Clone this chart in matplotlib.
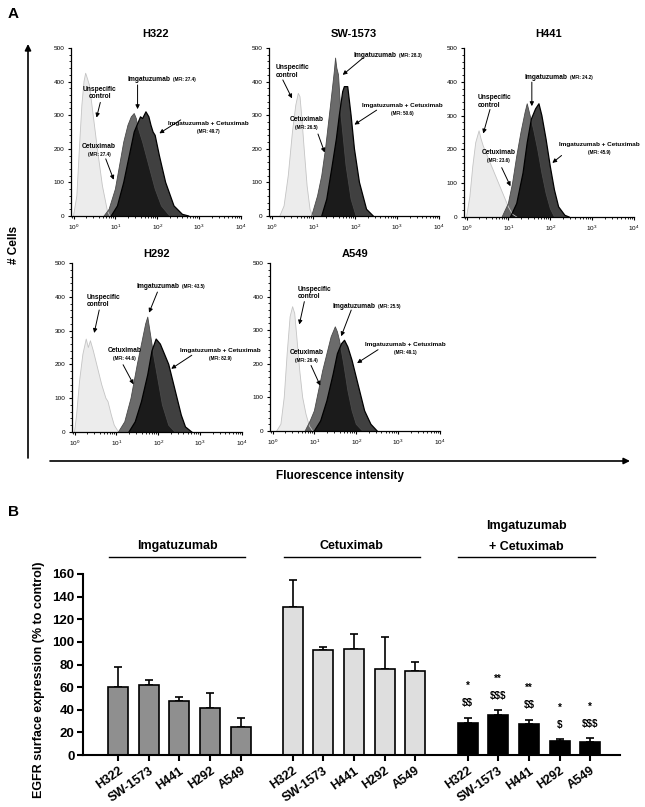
import numpy as np
import matplotlib
matplotlib.use("Agg")
import matplotlib.pyplot as plt
from matplotlib.ticker import AutoMinorLocator, LogLocator, NullFormatter

plt.rcParams["font.family"] = ["Liberation Sans", "DejaVu Sans"]
plt.rcParams["mathtext.fontset"] = "custom"
plt.rcParams["mathtext.rm"] = "Liberation Sans"
plt.rcParams["mathtext.default"] = "regular"

W, H = 645, 807

# ---- panel A: histogram outlines, (log10 intensity, # cells) ----
h322_ctrl = [(0.0, 0), (0.08, 60), (0.14, 200), (0.2, 330), (0.25, 400), (0.29, 425), (0.33, 410),
             (0.38, 390), (0.45, 320), (0.57, 200), (0.69, 90), (0.81, 15), (0.87, 0)]
h322_single = [(0.73, 0), (0.85, 20), (1.0, 80), (1.1, 150), (1.2, 220), (1.3, 270), (1.38, 295),
               (1.45, 305), (1.5, 290), (1.55, 260), (1.65, 220), (1.8, 150), (1.95, 80),
               (2.1, 30), (2.3, 0)]
h322_combo = [(0.9, 0), (1.05, 30), (1.2, 100), (1.35, 190), (1.45, 250), (1.55, 280), (1.6, 295),
              (1.65, 290), (1.73, 310), (1.8, 295), (1.85, 270), (1.9, 250), (1.95, 240),
              (2.05, 180), (2.2, 100), (2.4, 30), (2.6, 5), (2.75, 0)]

sw1573_ctrl = [(0.2, 0), (0.3, 30), (0.4, 120), (0.5, 250), (0.58, 330), (0.64, 365), (0.68, 355),
               (0.72, 300), (0.78, 200), (0.85, 90), (0.92, 20), (0.98, 0)]
sw1573_single = [(0.96, 0), (1.1, 60), (1.2, 120), (1.29, 200), (1.41, 330), (1.5, 430), (1.53, 470),
                 (1.56, 440), (1.6, 420), (1.66, 300), (1.78, 150), (1.9, 50), (2.02, 0)]
sw1573_combo = [(1.2, 0), (1.32, 50), (1.45, 150), (1.55, 230), (1.62, 300), (1.7, 370), (1.74, 385),
                (1.82, 385), (1.9, 300), (1.98, 200), (2.1, 100), (2.27, 20), (2.43, 0)]

h441_ctrl = [(0.0, 0), (0.08, 60), (0.15, 150), (0.22, 220), (0.3, 255), (0.35, 230), (0.4, 210),
             (0.5, 180), (0.6, 150), (0.7, 120), (0.8, 90), (0.9, 60), (1.0, 30), (1.1, 8), (1.2, 0)]
h441_single = [(0.85, 0), (1.0, 40), (1.1, 100), (1.2, 180), (1.3, 250), (1.4, 310), (1.45, 335),
               (1.5, 310), (1.6, 260), (1.7, 200), (1.8, 130), (1.9, 70), (2.0, 25), (2.1, 0)]
h441_combo = [(1.05, 0), (1.2, 40), (1.35, 130), (1.45, 220), (1.55, 290), (1.65, 320), (1.73, 335),
              (1.8, 300), (1.9, 230), (2.0, 150), (2.1, 80), (2.2, 30), (2.35, 5), (2.45, 0)]

h292_ctrl = [(0.0, 0), (0.05, 50), (0.12, 150), (0.2, 230), (0.28, 275), (0.33, 250), (0.38, 270),
             (0.45, 240), (0.55, 190), (0.65, 140), (0.75, 100), (0.8, 90), (0.88, 50),
             (0.95, 20), (1.05, 0)]
h292_single = [(1.05, 0), (1.2, 30), (1.35, 100), (1.5, 200), (1.6, 260), (1.7, 320), (1.75, 340),
               (1.8, 300), (1.9, 220), (2.0, 150), (2.1, 80), (2.25, 20), (2.4, 0)]
h292_combo = [(1.3, 0), (1.45, 30), (1.6, 90), (1.75, 170), (1.85, 240), (1.95, 275), (2.05, 260),
              (2.15, 230), (2.25, 200), (2.35, 150), (2.45, 100), (2.55, 50), (2.65, 15), (2.8, 0)]

a549_ctrl = [(0.1, 0), (0.2, 20), (0.28, 100), (0.35, 230), (0.42, 340), (0.48, 370), (0.53, 350),
             (0.58, 280), (0.65, 180), (0.72, 100), (0.8, 50), (0.88, 15), (0.96, 0)]
a549_single = [(0.78, 0), (0.9, 30), (1.0, 60), (1.1, 120), (1.2, 180), (1.3, 230), (1.4, 280),
               (1.5, 310), (1.55, 295), (1.6, 270), (1.7, 200), (1.8, 120), (1.9, 60), (2.0, 20),
               (2.15, 0)]
a549_combo = [(1.0, 0), (1.15, 30), (1.3, 90), (1.45, 170), (1.55, 230), (1.65, 260), (1.72, 270),
              (1.8, 250), (1.9, 210), (2.0, 160), (2.1, 110), (2.2, 60), (2.35, 20), (2.5, 0)]

hist_names = ["H322", "SW-1573", "H441", "H292", "A549"]
mfi_imga = [27.4, 28.3, 24.2, 43.5, 25.5]
mfi_cetux = [27.4, 26.5, 23.6, 44.6, 26.4]
mfi_combo = [49.7, 50.6, 45.9, 82.9, 49.1]

# ---- panel B: EGFR surface expression (% to control) ----
cell_lines = ["H322", "SW-1573", "H441", "H292", "A549"]
imga_mean = [60.5, 62.2, 47.5, 41.3, 24.8]
imga_err = [17.1, 4.2, 4.1, 13.3, 7.9]
cetux_mean = [130.4, 93.2, 94.0, 76.4, 74.0]
cetux_err = [24.6, 2.4, 12.8, 28.3, 8.0]
combo_mean = [28.6, 35.0, 27.4, 12.1, 11.2]
combo_err = [4.4, 4.5, 3.9, 1.8, 3.5]
stars = ["*", "**", "**", "*", "*"]
dollars = ["$$", "$$$", "$$", "$", "$$$"]


fig = plt.figure(figsize=(W / 100, H / 100), dpi=100)


def px_axes(left, top, width, height):
    return fig.add_axes([left / W, 1 - (top + height) / H, width / W, height / H])


def fill_curve(ax, pts, face, alpha, edge, lw):
    lx, cnt = zip(*pts)
    xs = 10 ** np.array(lx)
    ax.fill(xs, cnt, color=face, alpha=alpha, lw=0)
    ax.plot(xs, cnt, color=edge, lw=lw)


def arrow(ax, tail, head):
    ax.annotate("", xy=(10 ** head[0], head[1]), xytext=(10 ** tail[0], tail[1]),
                arrowprops=dict(arrowstyle="-|>", color="black", lw=0.7,
                                mutation_scale=6, shrinkA=0, shrinkB=0))


def hist_panel(ax, i, curves, notes, title_pad):
    ctrl, single, combo = curves
    fill_curve(ax, ctrl, "#ececec", 1.0, "#c4c4c4", 0.6)
    fill_curve(ax, single, "black", 0.58, "#4a4a4a", 0.6)
    fill_curve(ax, combo, "black", 0.75, "black", 0.9)

    ax.set_xscale("log")
    ax.set_xlim(10 ** -0.06, 10 ** 4.0)
    ax.set_ylim(0, 500)
    ax.set_yticks([0, 100, 200, 300, 400, 500])
    ax.yaxis.set_minor_locator(AutoMinorLocator(5))
    ax.xaxis.set_major_locator(LogLocator(base=10, numticks=10))
    ax.xaxis.set_minor_locator(LogLocator(base=10, subs=np.arange(2, 10), numticks=20))
    ax.xaxis.set_minor_formatter(NullFormatter())
    for s in ["top", "right"]:
        ax.spines[s].set_visible(False)
    for s in ["left", "bottom"]:
        ax.spines[s].set_linewidth(0.9)
    ax.tick_params(which="major", length=2.5, width=0.8, labelsize=4.6, pad=2)
    ax.tick_params(which="minor", length=1.4, width=0.6)
    ax.set_title(hist_names[i], fontsize=8, fontweight="bold", pad=title_pad)

    # unspecific control
    (ux, uy, uha), utail, uhead = notes["ctrl"]
    ax.text(10 ** ux, uy, "Unspecific\ncontrol", fontsize=4.8, fontweight="bold", ha=uha,
            va="center", linespacing=1.1)
    arrow(ax, utail, uhead)

    # imgatuzumab, MFI inline
    (ix, iy), itail, ihead = notes["imga"]
    t = ax.text(10 ** ix, iy, "Imgatuzumab", fontsize=4.8, fontweight="bold", ha="left",
                va="center")
    ax.annotate("(MFI: %.1f)" % mfi_imga[i], xy=(1, 0.5), xycoords=t, xytext=(1.5, 0),
                textcoords="offset points", fontsize=3.3, fontweight="bold", va="center")
    arrow(ax, itail, ihead)

    # imgatuzumab + cetuximab, MFI underneath
    (cx, cy), ctail, chead = notes["combo"]
    t = ax.text(10 ** cx, cy, "Imgatuzumab + Cetuximab", fontsize=4.6, fontweight="bold",
                ha="left", va="center")
    ax.annotate("(MFI: %.1f)" % mfi_combo[i], xy=(0.5, 0), xycoords=t, xytext=(0, -2.5),
                textcoords="offset points", fontsize=3.3, fontweight="bold", ha="center",
                va="top")
    arrow(ax, ctail, chead)

    # cetuximab, MFI underneath
    (ex, ey), etail, ehead = notes["cetux"]
    t = ax.text(10 ** ex, ey, "Cetuximab", fontsize=4.8, fontweight="bold", ha="center",
                va="center")
    ax.annotate("(MFI: %.1f)" % mfi_cetux[i], xy=(0.5, 0), xycoords=t, xytext=(0, -1.5),
                textcoords="offset points", fontsize=3.3, fontweight="bold", ha="center",
                va="top")
    arrow(ax, etail, ehead)


hist_axes = [px_axes(71, 48, 170, 168), px_axes(269, 48, 170, 168), px_axes(464, 48, 170, 169),
             px_axes(72, 263, 170, 169), px_axes(270, 263, 170, 168)]
title_pads = [8, 8, 8, 4, 4]

hist_curves = [(h322_ctrl, h322_single, h322_combo),
               (sw1573_ctrl, sw1573_single, sw1573_combo),
               (h441_ctrl, h441_single, h441_combo),
               (h292_ctrl, h292_single, h292_combo),
               (a549_ctrl, a549_single, a549_combo)]

hist_notes = [
    dict(ctrl=((0.63, 366, "center"), (0.64, 338), (0.55, 293)),
         imga=((1.30, 406), (1.53, 390), (1.53, 318)),
         combo=((2.25, 276), (2.56, 286), (2.05, 246)),
         cetux=((0.61, 208), (0.77, 170), (0.96, 108))),
    dict(ctrl=((0.11, 430, "left"), (0.27, 405), (0.49, 350)),
         imga=((1.96, 479), (2.19, 471), (1.70, 420)),
         combo=((2.16, 330), (2.51, 315), (1.98, 272)),
         cetux=((0.84, 288), (1.11, 244), (1.27, 189))),
    dict(ctrl=((0.26, 342, "left"), (0.56, 318), (0.40, 247)),
         imga=((1.39, 414), (1.56, 399), (1.56, 328)),
         combo=((2.21, 215), (2.27, 182), (2.05, 160)),
         cetux=((0.76, 192), (0.84, 146), (1.05, 91))),
    dict(ctrl=((0.30, 388, "left"), (0.59, 361), (0.47, 293)),
         imga=((1.48, 431), (1.98, 414), (1.78, 353)),
         combo=((2.52, 242), (2.80, 227), (2.31, 187)),
         cetux=((1.20, 242), (1.16, 199), (1.41, 141))),
    dict(ctrl=((0.60, 411, "left"), (0.76, 385), (0.64, 317)),
         imga=((1.44, 372), (1.88, 360), (1.64, 282)),
         combo=((2.22, 258), (2.52, 242), (2.02, 202)),
         cetux=((0.82, 235), (0.92, 195), (1.14, 135))),
]

for i, ax in enumerate(hist_axes):
    hist_panel(ax, i, hist_curves[i], hist_notes[i], title_pads[i])

# overlay in pixel coordinates for panel letters and big axis arrows
ov = fig.add_axes([0, 0, 1, 1], zorder=-1)
ov.set_xlim(0, W)
ov.set_ylim(H, 0)
ov.axis("off")
ov.text(8, 14, "A", fontsize=11, fontweight="bold", va="center", ha="left")
ov.text(8, 512, "B", fontsize=11, fontweight="bold", va="center", ha="left")
ov.annotate("", xy=(28, 44), xytext=(28, 458),
            arrowprops=dict(arrowstyle="-|>", color="black", lw=1.2, mutation_scale=9,
                            shrinkA=0, shrinkB=0))
ov.annotate("", xy=(630, 461), xytext=(50, 461),
            arrowprops=dict(arrowstyle="-|>", color="black", lw=1.2, mutation_scale=9,
                            shrinkA=0, shrinkB=0))
ov.text(14, 245, "# Cells", rotation=90, fontsize=8.5, fontweight="bold", ha="center",
        va="center")
ov.text(340, 476, "Fluorescence intensity", fontsize=8.5, fontweight="bold", ha="center",
        va="center")

# ---- panel B bars ----
bx = px_axes(83, 574, 537, 181)
groups = [(imga_mean, imga_err, "#8f8f8f", ["Imgatuzumab"]),
          (cetux_mean, cetux_err, "#dedede", ["Cetuximab"]),
          (combo_mean, combo_err, "black", ["Imgatuzumab", "+ Cetuximab"])]
all_pos, all_labels = [], []
for g, (mean, err, color, title) in enumerate(groups):
    pos = np.arange(len(cell_lines)) + g * 5.7
    bx.bar(pos, mean, width=0.65, color=color, edgecolor="black", linewidth=1.2, zorder=2)
    bx.errorbar(pos, mean, yerr=[np.zeros(len(err)), err], fmt="none", ecolor="black",
                elinewidth=1.2, capsize=3, capthick=1.2, zorder=1)
    x0, x1 = pos[0] - 0.3, pos[-1] + 0.15
    bx.plot([x0, x1], [175, 175], color="black", lw=1, clip_on=False)
    if len(title) == 1:
        bx.text((x0 + x1) / 2, 185, title[0], ha="center", va="center", fontsize=9,
                fontweight="bold")
    else:
        bx.text((x0 + x1) / 2, 202, title[0], ha="center", va="center", fontsize=9,
                fontweight="bold")
        bx.text((x0 + x1) / 2, 184, title[1], ha="center", va="center", fontsize=9,
                fontweight="bold")
    all_pos.extend(pos)
    all_labels.extend(cell_lines)

combo_pos = np.arange(len(cell_lines)) + 2 * 5.7
for p, m, e, s, d in zip(combo_pos, combo_mean, combo_err, stars, dollars):
    bx.text(p, m + e + 28, s, ha="center", va="center", fontsize=7, fontweight="bold")
    bx.text(p, m + e + 13, d.replace("$", r"\$"), ha="center", va="center", fontsize=7,
            fontweight="bold")

bx.set_xlim(-1.14, 16.37)
bx.set_ylim(0, 160)
bx.set_yticks(np.arange(0, 161, 20))
bx.set_xticks(all_pos)
bx.set_xticklabels(all_labels, rotation=35, ha="right", rotation_mode="anchor",
                   fontsize=9, fontweight="bold")
for lab in bx.get_yticklabels():
    lab.set_fontweight("bold")
bx.tick_params(axis="y", labelsize=9.5, length=4, width=1.5, pad=2)
bx.tick_params(axis="x", length=4, width=1.5, pad=3)
for s in ["top", "right"]:
    bx.spines[s].set_visible(False)
for s in ["left", "bottom"]:
    bx.spines[s].set_linewidth(1.5)
bx.set_ylabel("EGFR surface expression (% to control)", fontsize=9, fontweight="bold")
bx.yaxis.set_label_coords((45 - 83) / 537, (755 - 680) / 181)

fig.savefig("out.png", dpi=100)
